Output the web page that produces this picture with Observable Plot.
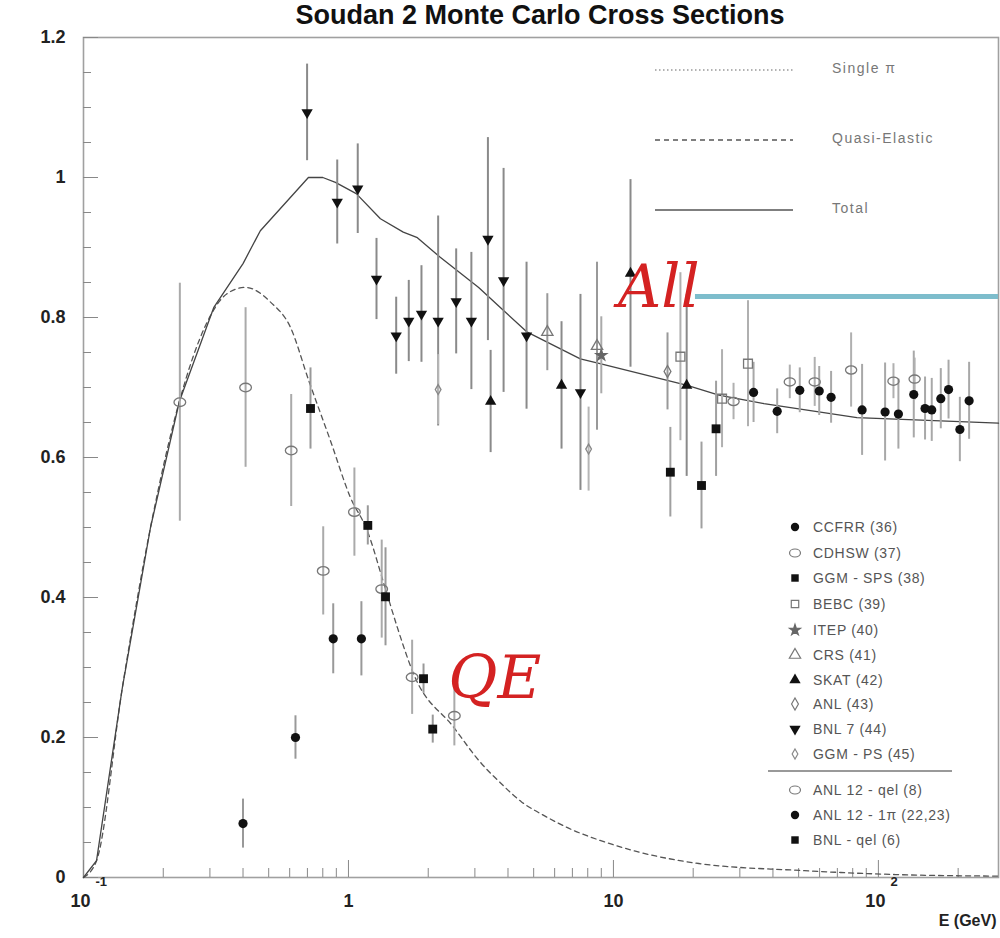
<!DOCTYPE html>
<html><head><meta charset="utf-8">
<script src="https://cdn.jsdelivr.net/npm/d3@7"></script>
<script src="https://cdn.jsdelivr.net/npm/@observablehq/plot@0.6"></script>
<style>
body{margin:0;background:#fff;}
#wrap{position:relative;width:1000px;height:938px;overflow:hidden;background:#fff}
#title{position:absolute;top:0;left:80px;width:920px;height:34px;line-height:36px;text-align:center;font:bold 27px "Liberation Sans",Arial,sans-serif;color:#111;z-index:2}
#overlay{position:absolute;left:0;top:0;pointer-events:none}
[aria-label="qe-label"], [aria-label="qe-label"] text{letter-spacing:8px}
</style></head><body>
<div id="wrap"><div id="title">Soudan 2 Monte Carlo Cross Sections</div><div id="chart"></div></div>
<script>
// ---------- data: [E (GeV), sigma/E, error] ----------
const ccfrr = [[33.8,0.693,0.043],[41.5,0.666,0.032],[50.5,0.696,0.032],[59.8,0.695,0.035],[66.3,0.686,0.037],[86.8,0.668,0.065],[106,0.665,0.07],[119,0.662,0.05],[136,0.69,0.062],[150,0.67,0.045],[159,0.668,0.045],[172,0.684,0.043],[184,0.697,0.042],[203,0.64,0.046],[220,0.681,0.055]];
const cdhsw = [[28.4,0.68,0.026],[46.3,0.708,0.024],[57.5,0.708,0.035],[78.9,0.725,0.053],[114,0.709,0.025],[137,0.712,0.03]];
const ggmSps = [[16.4,0.579,0.064],[21.5,0.56,0.062],[24.4,0.641,0.068]];
const bebc = [[17.9,0.744,0.12],[25.7,0.684,0.07],[32.2,0.734,0.09]];
const itep = [[9.0,0.746,0.055]];
const crs = [[5.63,0.779,0.055],[8.67,0.759,0.12]];
const skat = [[3.44,0.68,0.073],[6.37,0.703,0.091],[11.6,0.863,0.134],[18.9,0.703,0.13]];
const anl = [[16.0,0.723,0.055]];
const bnl7 = [[0.698,1.093,0.069],[0.907,0.965,0.06],[1.084,0.984,0.064],[1.276,0.855,0.058],[1.514,0.774,0.055],[1.689,0.795,0.058],[1.886,0.805,0.069],[2.18,0.795,0.15],[2.55,0.823,0.075],[2.91,0.795,0.098],[3.36,0.912,0.145],[3.85,0.853,0.16],[4.70,0.774,0.105],[7.51,0.693,0.14]];
const ggmPs = [[2.18,0.697,0.05],[8.06,0.612,0.06]];
const anl12qel = [[0.231,0.679,0.17],[0.409,0.700,0.114],[0.608,0.61,0.08],[0.803,0.438,0.063],[1.053,0.522,0.063],[1.335,0.412,0.07],[1.739,0.286,0.053],[2.51,0.231,0.043]];
const anl12pi = [[0.40,0.077,0.035],[0.631,0.2,0.031],[0.876,0.341,0.05],[1.119,0.341,0.053]];
const bnlQel = [[0.719,0.670,0.058],[1.183,0.503,0.028],[1.38,0.401,0.07],[1.92,0.284,0.021],[2.08,0.212,0.02]];

const seriesNames = ["CCFRR (36)","CDHSW (37)","GGM - SPS (38)","BEBC (39)","ITEP (40)","CRS (41)","SKAT (42)","ANL (43)","BNL 7 (44)","GGM - PS (45)","ANL 12 - qel (8)","ANL 12 - 1π (22,23)","BNL - qel (6)"];
const seriesArrays = [ccfrr, cdhsw, ggmSps, bebc, itep, crs, skat, anl, bnl7, ggmPs, anl12qel, anl12pi, bnlQel];

// Monte Carlo curves
const totalE = [0.1,0.112,0.14,0.179,0.23,0.31,0.40,0.465,0.706,0.8,0.893,1.07,1.32,1.61,1.82,2.22,3.1,3.75,4.73,7.5,8.9,19,25,37,83,284];
const totalV = [0,0.024,0.27,0.50,0.68,0.814,0.877,0.924,1.0,1.0,0.993,0.977,0.941,0.922,0.914,0.886,0.843,0.814,0.779,0.741,0.734,0.703,0.689,0.677,0.657,0.649];
const qeE = [0.1,0.112,0.14,0.179,0.23,0.29,0.348,0.409,0.508,0.604,0.708,0.855,1.017,1.176,1.36,1.53,1.76,2.49,3.14,3.75,4.5,5.5,7,8.9,12,21,51,121,284];
const qeV = [0,0.024,0.27,0.50,0.68,0.79,0.834,0.843,0.822,0.786,0.71,0.624,0.543,0.496,0.42,0.357,0.291,0.215,0.165,0.135,0.108,0.088,0.068,0.053,0.038,0.02,0.01,0.004,0.002];

const cyanLevel = [{v:0.83, e1:20.4, e2:284}];
const annotAll = [{label:"All", e:10.4, v:0.843}];
const annotQE = [{label:"QE", e:2.38, v:0.284}];

const xMajor = [0.1,1,10,100];
const xMinor = [0.2,0.3,0.4,0.5,0.6,0.7,0.8,0.9,2,3,4,5,6,7,8,9,20,30,40,50,60,70,80,90,200];
const xTickLabels = [{e:0.1,base:"10",sup:"-1"},{e:1,base:"1",sup:""},{e:10,base:"10",sup:""},{e:100,base:"10",sup:"2"}];
const yMajor = [0,0.2,0.4,0.6,0.8,1,1.2];
const yTickLabels = ["0","0.2","0.4","0.6","0.8","1","1.2"];
const yMinor = [0.05,0.1,0.15,0.25,0.3,0.35,0.45,0.5,0.55,0.65,0.7,0.75,0.85,0.9,0.95,1.05,1.1,1.15];
const curveLegend = ["Single π","Quasi-Elastic","Total"];

// ---------- custom symbols ----------
const triangleDown = {draw(ctx, size){const y=-Math.sqrt(size/(Math.sqrt(3)*3)); ctx.moveTo(0,-y*2); ctx.lineTo(-Math.sqrt(3)*y,y); ctx.lineTo(Math.sqrt(3)*y,y); ctx.closePath();}};
const ellipse = {draw(ctx, size){const r=Math.sqrt(size/Math.PI), rx=r*1.3, ry=r*0.95, k=0.5523;
  ctx.moveTo(rx,0); ctx.bezierCurveTo(rx,ry*k,rx*k,ry,0,ry); ctx.bezierCurveTo(-rx*k,ry,-rx,ry*k,-rx,0);
  ctx.bezierCurveTo(-rx,-ry*k,-rx*k,-ry,0,-ry); ctx.bezierCurveTo(rx*k,-ry,rx,-ry*k,rx,0); ctx.closePath();}};

const styles = {
  "CCFRR (36)":        {symbol:d3.symbolCircle, r:4.6, fill:"#111", stroke:"none", err:"#a8a8a8"},
  "CDHSW (37)":        {symbol:ellipse, r:4.3, fill:"none", stroke:"#777", err:"#b0b0b0"},
  "GGM - SPS (38)":    {symbol:d3.symbolSquare, r:5, fill:"#111", stroke:"none", err:"#a0a0a0"},
  "BEBC (39)":         {symbol:d3.symbolSquare, r:5, fill:"none", stroke:"#777", err:"#b0b0b0"},
  "ITEP (40)":         {symbol:d3.symbolStar, r:3.4, fill:"#666", stroke:"#666", err:"#aaa"},
  "CRS (41)":          {symbol:d3.symbolTriangle, r:4.2, fill:"none", stroke:"#777", err:"#999"},
  "SKAT (42)":         {symbol:d3.symbolTriangle, r:4.2, fill:"#111", stroke:"none", err:"#8a8a8a"},
  "ANL (43)":          {symbol:d3.symbolDiamond, r:3.6, fill:"none", stroke:"#777", err:"#999"},
  "BNL 7 (44)":        {symbol:triangleDown, r:4.2, fill:"#111", stroke:"none", err:"#8a8a8a"},
  "GGM - PS (45)":     {symbol:d3.symbolDiamond, r:3, fill:"none", stroke:"#888", err:"#b5b5b5"},
  "ANL 12 - qel (8)":  {symbol:ellipse, r:4.5, fill:"none", stroke:"#777", err:"#aaa"},
  "ANL 12 - 1π (22,23)": {symbol:d3.symbolCircle, r:4.6, fill:"#111", stroke:"none", err:"#999"},
  "BNL - qel (6)":     {symbol:d3.symbolSquare, r:5, fill:"#111", stroke:"none", err:"#999"}
};

const toRows = (name, arr) => arr.map(([e,v,err]) => ({series:name, e, v, err}));
const totalCurve = totalE.map((e,i)=>({e, v:totalV[i]}));
const qeCurve = qeE.map((e,i)=>({e, v:qeV[i]}));

const marks = [
  Plot.frame({stroke:"#a0a0a0", strokeWidth:1.6}),
  Plot.axisX({ticks:xMajor, tickSize:-17, tickFormat:()=>"", stroke:"#888", label:null}),
  Plot.axisX({ticks:xMinor, tickSize:-9, tickFormat:()=>"", stroke:"#888", label:null}),
  Plot.axisY({ticks:yMajor, tickSize:-15, tickFormat:()=>"", stroke:"#888", label:null}),
  Plot.axisY({ticks:yMinor, tickSize:-8, tickFormat:()=>"", stroke:"#888", label:null}),
  Plot.axisY({ticks:yMajor, tickSize:0, tickPadding:18, tickFormat:(d,i)=>yTickLabels[i], fontSize:18, fontWeight:"bold", fill:"#222", label:null}),
  Plot.ruleY(cyanLevel, {y:"v", x1:"e1", x2:"e2", stroke:"#7dbdcc", strokeWidth:5}),
  Plot.line(qeCurve, {x:"e", y:"v", stroke:"#555", strokeWidth:1.3, strokeDasharray:"5,4", curve:"monotone-x"}),
  Plot.line(totalCurve, {x:"e", y:"v", stroke:"#444", strokeWidth:1.3})
];
seriesNames.forEach((name, i) => {
  const st = styles[name];
  const rows = toRows(name, seriesArrays[i]);
  marks.push(Plot.ruleX(rows, {x:"e", y1:d=>d.v-d.err, y2:d=>d.v+d.err, stroke:st.err, strokeWidth:2}));
});
seriesNames.forEach((name, i) => {
  const st = styles[name];
  const rows = toRows(name, seriesArrays[i]);
  marks.push(Plot.dot(rows, {x:"e", y:"v", symbol:st.symbol, r:st.r, fill:st.fill, stroke:st.stroke, strokeWidth:1.3}));
});
const withSup = xTickLabels.filter(d=>d.sup);
const noSup = xTickLabels.filter(d=>!d.sup);
marks.push(
  Plot.text(annotAll, {x:"e", y:"v", text:"label", textAnchor:"start", fill:"#d42222", fontFamily:"DejaVu Serif", fontStyle:"italic", fontSize:60}),
  Plot.text(annotQE, {x:"e", y:"v", text:"label", textAnchor:"start", fill:"#d42222", fontFamily:"DejaVu Serif", fontStyle:"italic", fontSize:60, ariaLabel:"qe-label"}),
  Plot.text(noSup, {x:"e", text:"base", frameAnchor:"bottom", dy:29, fontSize:18, fontWeight:"bold", fill:"#222"}),
  Plot.text(withSup, {x:"e", text:"base", frameAnchor:"bottom", dy:29, dx:-3, fontSize:18, fontWeight:"bold", fill:"#222"}),
  Plot.text(withSup, {x:"e", text:"sup", frameAnchor:"bottom", dy:8, dx:12, textAnchor:"start", fontSize:13, fontWeight:"bold", fill:"#222"}),
  Plot.text(["E (GeV)"], {text:d=>d, frameAnchor:"bottom-right", dy:48, dx:-2, textAnchor:"end", fontSize:16, fontWeight:"bold", fill:"#222"})
);

const chart = Plot.plot({
  width:1000, height:938,
  marginLeft:83, marginRight:2, marginTop:37, marginBottom:61,
  x:{type:"log", domain:[0.1,284]},
  y:{domain:[0,1.2]},
  style:{background:"#fff", fontFamily:"Liberation Sans, Arial, sans-serif"},
  marks
});
document.getElementById("chart").appendChild(chart);

// ---------- legends (overlay) ----------
const ov = d3.select("#wrap").append("svg").attr("id","overlay").attr("width",1000).attr("height",938);
const lineDash = [[1.5,2.5],[5,4],null];
const lineRowY = [70,140,210];
curveLegend.forEach((lab,i)=>{
  ov.append("line").attr("x1",655).attr("x2",793).attr("y1",lineRowY[i]).attr("y2",lineRowY[i])
    .attr("stroke", i===0?"#999":"#555").attr("stroke-width",1.3)
    .attr("stroke-dasharray", lineDash[i]?lineDash[i].join(","):null);
  ov.append("text").attr("x",832).attr("y",lineRowY[i]-2).attr("dy","0.35em").text(lab)
    .attr("font-family","Liberation Sans, Arial").attr("font-size",14).attr("letter-spacing","1.5px").attr("fill","#777");
});
const legY = [527,553,578,604,630,655,680,704,729,754,790,815,840];
seriesNames.forEach((name,i)=>{
  const st = styles[name];
  const rs = Math.min(st.r, 4.2);
  ov.append("path").attr("transform",`translate(795,${legY[i]})`)
    .attr("d", d3.symbol().type(st.symbol).size(Math.PI*rs*rs)())
    .attr("fill", st.fill).attr("stroke", st.stroke==="none"?null:st.stroke).attr("stroke-width",1.2);
  ov.append("text").attr("x",813).attr("y",legY[i]).attr("dy","0.35em").text(name)
    .attr("font-family","Liberation Sans, Arial").attr("font-size",14).attr("letter-spacing","0.7px").attr("fill","#555");
});
ov.append("line").attr("x1",768).attr("x2",952).attr("y1",771).attr("y2",771).attr("stroke","#777").attr("stroke-width",1.5);
</script></body></html>
